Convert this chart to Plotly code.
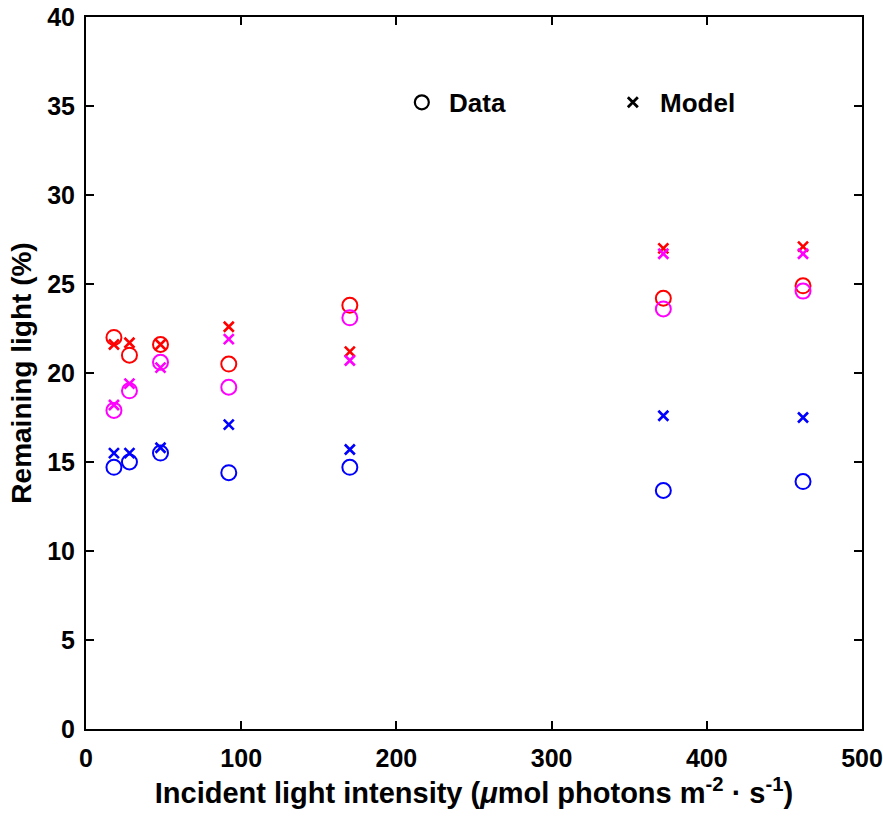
import plotly.graph_objects as go

# Incident light intensity (umol photons m^-2 s^-1)
intensity = [18, 28, 48, 92, 170, 372, 462]

# Remaining light (%) - measured
data_red = [22.0, 21.0, 21.6, 20.5, 23.8, 24.2, 24.9]
data_magenta = [17.9, 19.0, 20.6, 19.2, 23.1, 23.6, 24.6]
data_blue = [14.7, 15.0, 15.5, 14.4, 14.7, 13.4, 13.9]

# Remaining light (%) - model
model_red = [21.6, 21.7, 21.6, 22.6, 21.2, 27.0, 27.1]
model_magenta = [18.2, 19.4, 20.3, 21.9, 20.7, 26.7, 26.7]
model_blue = [15.5, 15.5, 15.8, 17.1, 15.7, 17.6, 17.5]

x_ticks = [0, 100, 200, 300, 400, 500]
y_ticks = [0, 5, 10, 15, 20, 25, 30, 35, 40]

FONT = "Liberation Sans, Arial, sans-serif"

fig = go.Figure()

series = [
    (data_red, model_red, "#FF0000"),
    (data_magenta, model_magenta, "#FF00FF"),
    (data_blue, model_blue, "#0000FF"),
]

for data_vals, model_vals, color in series:
    fig.add_trace(go.Scatter(
        x=intensity, y=data_vals, mode="markers", showlegend=False,
        marker=dict(symbol="circle-open", size=15, color=color,
                    line=dict(width=2, color=color)),
    ))
    fig.add_trace(go.Scatter(
        x=intensity, y=model_vals, mode="markers", showlegend=False,
        marker=dict(symbol="x-thin-open", size=10, color=color,
                    line=dict(width=2.6, color=color)),
    ))

# Legend entries (black symbols)
fig.add_trace(go.Scatter(
    x=[None], y=[None], mode="markers", name="\u00a0Data",
    marker=dict(symbol="circle-open", size=14, color="black",
                line=dict(width=2.2, color="black")),
))
fig.add_trace(go.Scatter(
    x=[None], y=[None], mode="markers", name="\u00a0Model",
    marker=dict(symbol="x-thin-open", size=10, color="black",
                line=dict(width=2.8, color="black")),
))

axis_common = dict(
    showline=True, linecolor="black", linewidth=2, mirror="ticks",
    ticks="inside", ticklen=8, tickwidth=2, tickcolor="black",
    showgrid=False, zeroline=False,
    tickfont=dict(family=FONT, size=25, color="black", weight="bold"),
)

fig.update_xaxes(
    range=[0, 500], tickvals=x_ticks, ticktext=[str(v) for v in x_ticks],
    ticklabelstandoff=6,
    title=dict(
        text="Incident light intensity (<i>\u03bc</i>mol photons m<sup>-2</sup> \u00b7 s<sup>-1</sup>)",
        font=dict(family=FONT, size=29, color="black", weight="bold"),
        standoff=12,
    ),
    **axis_common,
)
fig.update_yaxes(
    range=[0, 40], tickvals=y_ticks, ticktext=[str(v) for v in y_ticks],
    ticklabelstandoff=4,
    title=dict(
        text="Remaining light (%)",
        font=dict(family=FONT, size=28, color="black", weight="bold"),
        standoff=7,
    ),
    **axis_common,
)

fig.update_layout(
    width=883, height=817,
    margin=dict(l=86, r=21, t=17, b=88, autoexpand=False),
    plot_bgcolor="white", paper_bgcolor="white",
    legend=dict(
        orientation="h", x=0.407, y=0.88, xanchor="left", yanchor="middle",
        bgcolor="rgba(0,0,0,0)", entrywidth=166, entrywidthmode="pixels",
        font=dict(family=FONT, size=26, color="black", weight="bold"),
    ),
)

fig.write_html("out.html")
